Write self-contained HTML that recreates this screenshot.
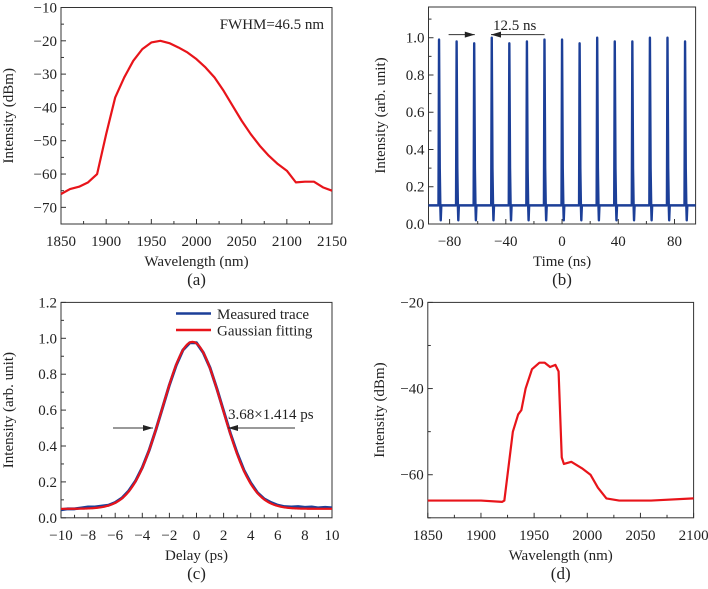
<!DOCTYPE html>
<html><head><meta charset="utf-8">
<style>
html,body{margin:0;padding:0;background:#fff;}
svg{display:block;font-family:"Liberation Serif",serif;}
text{fill:#222;}
</style></head>
<body>
<svg id="fig" width="708" height="589" viewBox="0 0 708 589" xmlns="http://www.w3.org/2000/svg"></svg>
<script>
// ---------- data ----------
const aWavelengths = [1850,1860,1870,1880,1890,1900,1910,1920,1930,1940,1950,1960,1970,1980,1990,2000,2010,2020,2030,2040,2050,2060,2070,2080,2090,2100,2110,2120,2130,2140,2150];
const aIntensity = [-66,-64.5,-63.8,-62.5,-60,-48,-37,-31,-26,-22.5,-20.5,-20,-20.7,-22,-23.5,-25.5,-28,-31,-35,-39.5,-44,-48,-51.5,-54.5,-57,-59,-62.5,-62.3,-62.3,-64,-65];
const aXTicks = [1850,1900,1950,2000,2050,2100,2150];
const aYTicks = [-70,-60,-50,-40,-30,-20,-10];

const bPulseTimes = [-87.5,-75,-62.5,-50,-37.5,-25,-12.5,0,12.5,25,37.5,50,62.5,75,87.5];
const bPulsePeaks = [0.99,0.98,0.97,1.0,0.97,0.98,0.99,0.99,0.97,1.0,0.98,0.98,1.0,1.0,0.98];
const bBaseline = [0.1];
const bXTicks = [-80,-40,0,40,80];
const bYTicks = [0,0.2,0.4,0.6,0.8,1.0];
const bYLabels = ["0.0","0.2","0.4","0.6","0.8","1.0"];

const cDelays = [-10,-9.5,-9,-8.5,-8,-7.5,-7,-6.5,-6,-5.5,-5,-4.5,-4,-3.5,-3,-2.5,-2,-1.5,-1,-0.5,0,0.5,1,1.5,2,2.5,3,3.5,4,4.5,5,5.5,6,6.5,7,7.5,8,8.5,9,9.5,10];
const cMeasured = [0.045,0.05,0.05,0.055,0.06,0.06,0.065,0.07,0.085,0.11,0.15,0.205,0.28,0.375,0.49,0.615,0.74,0.85,0.935,0.975,0.975,0.92,0.835,0.72,0.595,0.47,0.36,0.265,0.195,0.14,0.105,0.085,0.07,0.062,0.06,0.062,0.058,0.06,0.055,0.058,0.055];
const cFitParams = [0.05,0.93,-0.3,5.2]; // offset, amplitude, center, FWHM
const cXTicks = [-10,-8,-6,-4,-2,0,2,4,6,8,10];
const cYTicks = [0,0.2,0.4,0.6,0.8,1.0,1.2];
const cYLabels = ["0.0","0.2","0.4","0.6","0.8","1.0","1.2"];

const dWavelengths = [1850,1880,1900,1920,1922,1925,1930,1935,1938,1942,1948,1955,1960,1965,1970,1973,1976,1978,1985,1995,2003,2010,2018,2030,2060,2100];
const dIntensity = [-66,-66,-66,-66.3,-66,-60,-50,-46,-45,-40,-35.5,-34,-34,-35,-34.5,-36,-56,-57.5,-57,-58.5,-60,-63,-65.5,-66,-66,-65.5];
const dXTicks = [1850,1900,1950,2000,2050,2100];
const dYTicks = [-60,-40,-20];

// ---------- helpers ----------
const NS="http://www.w3.org/2000/svg";
const svg=document.getElementById('fig');
function mk(tag,attrs,parent){const e=document.createElementNS(NS,tag);for(const k in attrs)e.setAttribute(k,attrs[k]);(parent||svg).appendChild(e);return e;}
function lin(d0,d1,r0,r1){return v=>r0+(v-d0)/(d1-d0)*(r1-r0);}
function txt(x,y,s,anchor,size,parent,name){const t=mk('text',{x:x,y:y,'text-anchor':anchor||'middle','font-size':size||15},parent);t.textContent=s;


return t;}

function axes(p){
  const g=mk('g',{});
  
  
  const r=mk('rect',{x:p.L,y:p.T,width:p.R-p.L,height:p.B-p.T,fill:'none',stroke:'#333','stroke-width':1},g);
  
  
  for(let v=p.xmin;v<=p.xmax+1e-9;v+=p.xminor){
    const x=p.sx(v);const major=Math.abs(((v-p.xmajor0)/p.xmajor)-Math.round((v-p.xmajor0)/p.xmajor))<1e-6;
    mk('line',{x1:x,x2:x,y1:p.B,y2:p.B-(major?5:3),stroke:'#333'},g);
  }
  for(let v=p.ymin;v<=p.ymax+1e-9;v+=p.yminor){
    const y=p.sy(v);const major=Math.abs(((v-p.ymajor0)/p.ymajor)-Math.round((v-p.ymajor0)/p.ymajor))<1e-6;
    mk('line',{x1:p.L,x2:p.L+(major?5:3),y1:y,y2:y,stroke:'#333'},g);
  }
  p.xt.forEach((v,i)=>txt(p.sx(v),p.B+22,p.xl?p.xl[i]:String(v).replace('-','\u2212'),'middle',15,g,p.name+'-x-tick-label'));
  p.yt.forEach((v,i)=>txt(p.L-4,p.sy(v)+5,p.yl?p.yl[i]:String(v).replace('-','\u2212'),'end',15,g,p.name+'-y-tick-label'));
  txt((p.L+p.R)/2,p.B+42,p.xtitle,'middle',15,g,p.name+'-x-axis-title');
  const yt=txt(0,0,p.ytitle,'middle',15,g,p.name+'-y-axis-title');
  yt.setAttribute('transform',`translate(${p.ytx},${(p.T+p.B)/2}) rotate(-90)`);
  txt((p.L+p.R)/2,p.B+61,p.label,'middle',17,g,p.name+'-panel-label');
}
function polyline(xs,ys,sx,sy,color,w,name){
  const d=xs.map((x,i)=>(i?'L':'M')+sx(x).toFixed(2)+','+sy(ys[i]).toFixed(2)).join('');
  const p=mk('path',{d:d,fill:'none',stroke:color,'stroke-width':w,'stroke-linejoin':'round'});
  
  
  return p;
}
function arrow(x1,y,x2,name){
  const g=mk('g',{});
  
  
  mk('line',{x1:x1,x2:x2,y1:y,y2:y,stroke:'#333','stroke-width':1},g);
  const dir=Math.sign(x2-x1);
  mk('polygon',{points:`${x2},${y} ${x2-dir*10},${y-3} ${x2-dir*10},${y+3}`,fill:'#222'},g);
}
const RED='#e8141a',BLUE='#1c3f98';

// ---------- panel a ----------
{const p={name:'panel-a',L:61,R:332,T:7.5,B:224,xmin:1850,xmax:2150,ymin:-75,ymax:-10,
 xminor:25,xmajor:50,xmajor0:1850,yminor:5,ymajor:10,ymajor0:-70,xt:aXTicks,yt:aYTicks,
 xtitle:'Wavelength (nm)',ytitle:'Intensity (dBm)',ytx:13,label:'(a)'};
 p.sx=lin(1850,2150,p.L,p.R);p.sy=lin(-75,-10,p.B,p.T);
 axes(p);
 polyline(aWavelengths,aIntensity,p.sx,p.sy,RED,2.2,'panel-a-spectrum-line');
 txt(324,29,'FWHM=46.5 nm','end',15,svg,'panel-a-fwhm-annotation');
}
// ---------- panel b ----------
{const p={name:'panel-b',L:428.5,R:695.6,T:7,B:224,xmin:-95,xmax:95,ymin:0,ymax:1.165,
 xminor:20,xmajor:40,xmajor0:0,yminor:0.1,ymajor:0.2,ymajor0:0,xt:bXTicks,yt:bYTicks,yl:bYLabels,
 xtitle:'Time (ns)',ytitle:'Intensity (arb. unit)',ytx:385,label:'(b)'};
 p.sx=lin(-95,95,p.L,p.R);p.sy=lin(0,1.165,p.B,p.T);
 p.xmin=-80;axes(p);
 const xs=[-95],ys=[bBaseline[0]];
 bPulseTimes.forEach((t,i)=>{
   xs.push(t-0.4,t,t+0.5,t+0.9,t+1.2,t+1.6);
   ys.push(bBaseline[0],bPulsePeaks[i],0.3,bBaseline[0],0.02,bBaseline[0]);
 });
 xs.push(95);ys.push(bBaseline[0]);
 polyline(xs,ys,p.sx,p.sy,BLUE,2.4,'panel-b-pulse-train');
 arrow(448.6,34.6,474.8,'panel-b-arrow-right');
 arrow(544.6,34.6,491,'panel-b-arrow-left');
 txt(493,30,'12.5 ns','start',15,svg,'panel-b-period-annotation');
}
// ---------- panel c ----------
{const p={name:'panel-c',L:61,R:332,T:302.4,B:517.8,xmin:-10,xmax:10,ymin:0,ymax:1.2,
 xminor:1,xmajor:2,xmajor0:0,yminor:0.1,ymajor:0.2,ymajor0:0,xt:cXTicks,yt:cYTicks,yl:cYLabels,
 xtitle:'Delay (ps)',ytitle:'Intensity (arb. unit)',ytx:13,label:'(c)'};
 p.sx=lin(-10,10,p.L,p.R);p.sy=lin(0,1.2,p.B,p.T);
 axes(p);
 polyline(cDelays,cMeasured,p.sx,p.sy,BLUE,3,'panel-c-measured-trace');
 const [off,amp,c0,fw]=cFitParams;const s=fw/2.3548;
 const fx=[],fy=[];for(let x=-10;x<=10.001;x+=0.1){fx.push(x);fy.push(off+amp*Math.exp(-((x-c0)**2)/(2*s*s)));}
 polyline(fx,fy,p.sx,p.sy,RED,2.2,'panel-c-gaussian-fit');
 arrow(113,428,153,'panel-c-arrow-right');
 arrow(295,428,228,'panel-c-arrow-left');
 txt(228,419,'3.68\u00d71.414 ps','start',15,svg,'panel-c-width-annotation');
 const lg=mk('g',{});
 
 
 mk('line',{x1:176,x2:211,y1:313.5,y2:313.5,stroke:BLUE,'stroke-width':2.5},lg);
 txt(217,319,'Measured trace','start',15,lg,'legend-entry-measured');
 mk('line',{x1:176,x2:211,y1:330,y2:330,stroke:RED,'stroke-width':2.5},lg);
 txt(217,335.5,'Gaussian fitting','start',15,lg,'legend-entry-gaussian');
}
// ---------- panel d ----------
{const p={name:'panel-d',L:427.8,R:693.6,T:302.4,B:517.8,xmin:1850,xmax:2100,ymin:-70,ymax:-20,
 xminor:25,xmajor:50,xmajor0:1850,yminor:10,ymajor:20,ymajor0:-60,xt:dXTicks,yt:dYTicks,
 xtitle:'Wavelength (nm)',ytitle:'Intensity (dBm)',ytx:384,label:'(d)'};
 p.sx=lin(1850,2100,p.L,p.R);p.sy=lin(-70,-20,p.B,p.T);
 axes(p);
 polyline(dWavelengths,dIntensity,p.sx,p.sy,RED,2.2,'panel-d-spectrum-line');
}
</script>
</body></html>
